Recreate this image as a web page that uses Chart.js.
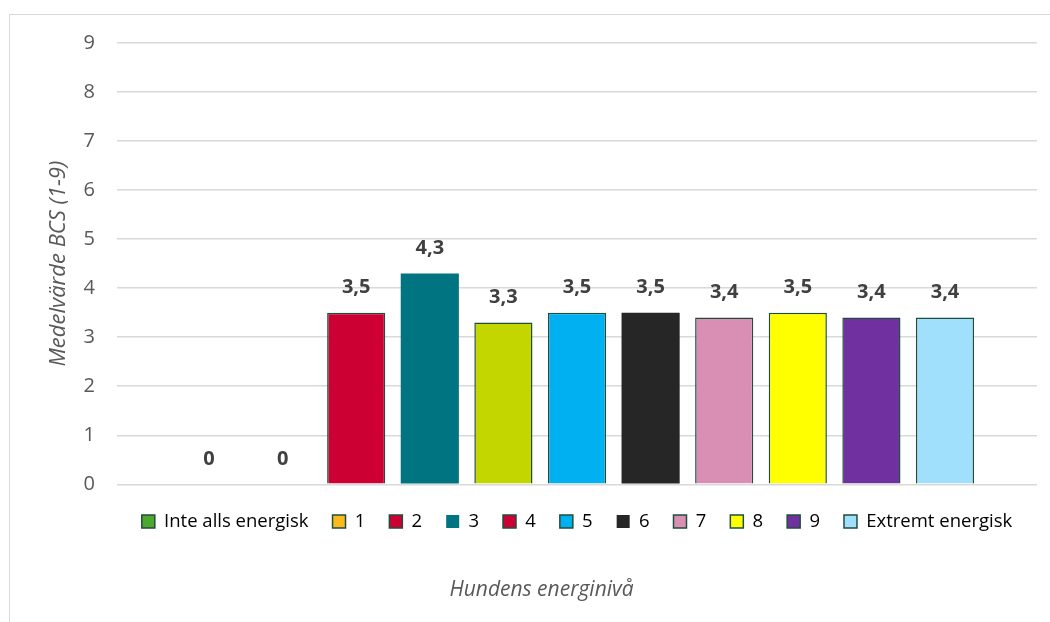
<!DOCTYPE html>
<html>
<head>
<meta charset="utf-8">
<script src="https://cdn.jsdelivr.net/npm/chart.js@4/dist/chart.umd.min.js"></script>
<style>
  html, body { margin: 0; padding: 0; background: #fff; }
  #wrap { position: relative; width: 1050px; height: 622px; }
</style>
</head>
<body>
<div id="wrap"><canvas id="chart" width="1050" height="622"></canvas></div>
<script>
// Energy level groups and mean BCS per group
const levels = ['Inte alls energisk', '1', '2', '3', '4', '5', '6', '7', '8', '9', 'Extremt energisk'];
const meanBcs = [0, 0, 3.5, 4.3, 3.3, 3.5, 3.5, 3.4, 3.5, 3.4, 3.4];
const barColors = ['#4EA72E', '#FBB91E', '#CC0033', '#007480', '#C4D600', '#00B0F0', '#262626', '#D98EB4', '#FFFF00', '#7030A0', '#A0E0FC'];
const legendColors = ['#4EA72E', '#FBB91E', '#CC0033', '#007480', '#CC0033', '#00B0F0', '#262626', '#D98EB4', '#FFFF00', '#7030A0', '#A0E0FC'];
const outlined = [true, true, true, false, true, true, false, true, true, true, true];
const yTicks = [0, 1, 2, 3, 4, 5, 6, 7, 8, 9];

const edge = '#1F4E3D';
const font = "'Open Sans', 'DejaVu Sans', sans-serif";

const datasets = levels.map((name, i) => ({
  label: name,
  data: [meanBcs[i]],
  backgroundColor: barColors[i],
  borderColor: edge,
  borderWidth: outlined[i] && meanBcs[i] > 0 ? 1.5 : 0,
  categoryPercentage: 0.88,
  barPercentage: 0.79
}));

// value labels above each bar, Swedish decimal comma
const valueLabels = {
  id: 'valueLabels',
  afterDatasetsDraw(chart) {
    const ctx = chart.ctx;
    ctx.save();
    ctx.font = "bold 20px " + font;
    ctx.fillStyle = '#404040';
    ctx.textAlign = 'center';
    ctx.textBaseline = 'middle';
    chart.data.datasets.forEach((ds, i) => {
      const bar = chart.getDatasetMeta(i).data[0];
      const txt = String(ds.data[0]).replace('.', ',');
      ctx.fillText(txt, bar.x, bar.y - 25);
    });
    ctx.restore();
  }
};

// thin grey frame around the chart; legend centred under the plot area
const frame = {
  id: 'frame',
  afterLayout(chart) {
    const shift = (chart.chartArea.left + chart.chartArea.right) / 2 - (chart.legend.left + chart.legend.right) / 2;
    chart.legend.left += shift;
    chart.legend.right += shift;
  },
  beforeDraw(chart) {
    const ctx = chart.ctx;
    ctx.save();
    ctx.strokeStyle = '#D9D9D9';
    ctx.lineWidth = 1;
    ctx.strokeRect(9.5, 14.5, 1100, 700);
    ctx.restore();
  }
};

new Chart(document.getElementById('chart'), {
  type: 'bar',
  data: { labels: [''], datasets: datasets },
  plugins: [frame, valueLabels],
  options: {
    responsive: false,
    animation: false,
    layout: { padding: { left: 46, right: 13, top: 43, bottom: 10 } },
    scales: {
      x: {
        grid: { display: false },
        border: { display: false },
        ticks: { display: false },
        afterFit(s) { s.height = 4; }
      },
      y: {
        min: 0,
        max: 9,
        afterBuildTicks(s) { s.ticks = yTicks.map(v => ({ value: v })); },
        afterFit(s) { s.width = 117 - 46; },
        grid: { color: '#D9D9D9', lineWidth: 1.5, drawTicks: false },
        border: { display: false },
        ticks: { padding: 22, color: '#595959', font: { family: font, size: 20 } },
        title: {
          display: true,
          text: 'Medelvärde BCS (1-9)',
          color: '#595959',
          padding: 0,
          font: { family: font, size: 22, style: 'italic' }
        }
      }
    },
    plugins: {
      tooltip: { enabled: false },
      legend: {
        position: 'bottom',
        labels: {
          boxWidth: 13,
          boxHeight: 13,
          padding: 24,
          color: '#595959',
          font: { family: font, size: 18.5 },
          generateLabels() {
            return levels.map((name, i) => ({
              text: name,
              fillStyle: legendColors[i],
              strokeStyle: edge,
              lineWidth: outlined[i] ? 1.5 : 0,
              datasetIndex: i
            }));
          }
        }
      },
      title: {
        display: true,
        position: 'bottom',
        text: 'Hundens energinivå',
        color: '#595959',
        padding: { top: 37, bottom: 9 },
        font: { family: font, size: 21, style: 'italic', weight: 'normal' }
      }
    }
  }
});
</script>
</body>
</html>
